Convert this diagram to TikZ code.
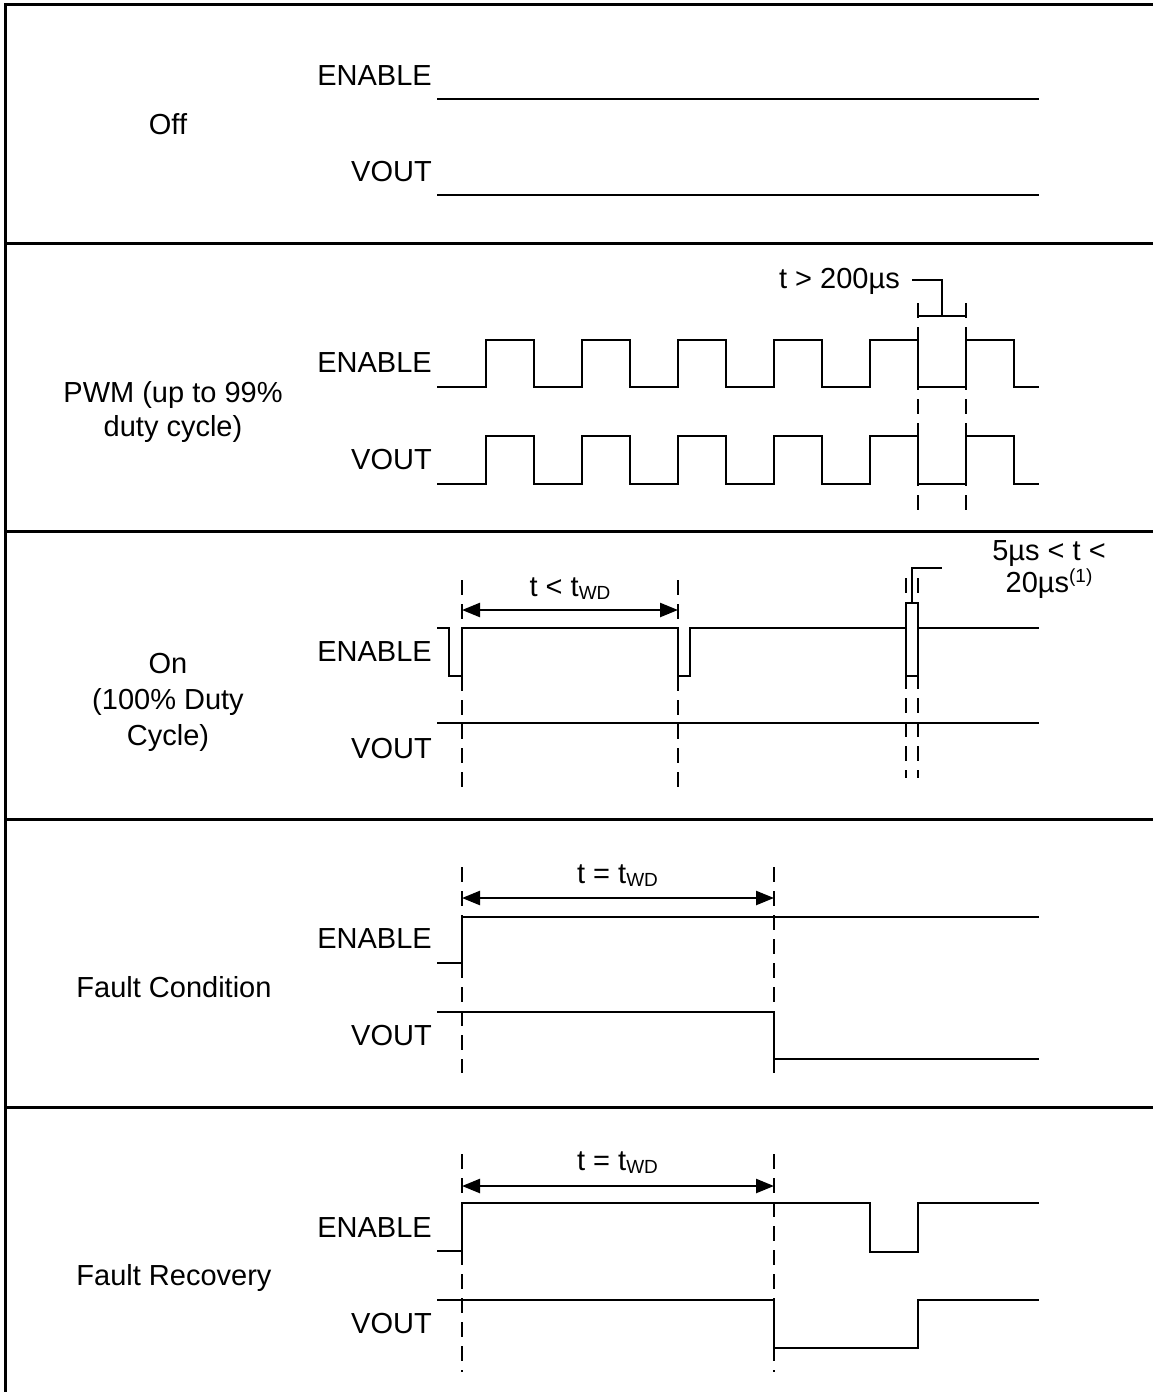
\documentclass[tikz,border=0pt]{standalone}
\usepackage{fontspec}
\setmainfont{Liberation Sans}
\usetikzlibrary{arrows.meta}
\newcommand\mysub[1]{\raisebox{-3pt}{\fontsize{19}{19}\selectfont #1}}
\newcommand\mysup[1]{\raisebox{10pt}{\fontsize{19}{19}\selectfont #1}}
\begin{document}
\begin{tikzpicture}[x=1pt,y=-1pt,
  sig/.style={line width=2.8pt, line join=miter, line cap=rect},
  frame/.style={line width=3pt},
  guide/.style={line width=2.2pt, dash pattern=on 15pt off 9pt},
  brk/.style={line width=2.2pt},
  dim/.style={line width=2.4pt, {Triangle[length=18pt,width=14pt]}-{Triangle[length=18pt,width=14pt]}},
  lbl/.style={font=\fontsize{29}{34}\selectfont, inner sep=0pt},
  sname/.style={lbl, anchor=base east},
  state/.style={lbl, anchor=base},
]
\useasboundingbox (0,0) rectangle (1153,1392);
\fill[white] (0,0) rectangle (1153,1392);

% frame and separators
\draw[frame] (1153,4) -- (5,4) -- (5,1392);
\foreach \yy in {243.7,531.7,819.3,1107.7}
  \draw[frame] (5,\yy) -- (1153,\yy);

% ---------- Panel 1: Off ----------
\node[state] (off) at (168,134.5) {Off};
\node[sname] (en1) at (432,85.5) {ENABLE};
\node[sname] (vo1) at (432,181.5) {VOUT};
\draw[sig] (438,99) -- (1038,99);
\draw[sig] (438,195) -- (1038,195);

% ---------- Panel 2: PWM ----------
\node[state] (pwm1) at (173,402.7) {PWM (up to 99\%};
\node[state] (pwm2) at (173,436.7) {duty cycle)};
\node[sname] (en2) at (432,372.7) {ENABLE};
\node[sname] (vo2) at (432,469.5) {VOUT};
\draw[guide] (918,303) -- (918,510);
\draw[guide] (966,303) -- (966,510);
\draw[sig] (438,387) -- (486,387) -- (486,340) -- (534,340) -- (534,387) -- (582,387) -- (582,340) -- (630,340) -- (630,387) -- (678,387) -- (678,340) -- (726,340) -- (726,387) -- (774,387) -- (774,340) -- (822,340) -- (822,387) -- (870,387) -- (870,340) -- (918,340) -- (918,387) -- (966,387) -- (966,340) -- (1014,340) -- (1014,387) -- (1038,387);
\draw[sig] (438,484) -- (486,484) -- (486,436) -- (534,436) -- (534,484) -- (582,484) -- (582,436) -- (630,436) -- (630,484) -- (678,484) -- (678,436) -- (726,436) -- (726,484) -- (774,484) -- (774,436) -- (822,436) -- (822,484) -- (870,484) -- (870,436) -- (918,436) -- (918,484) -- (966,484) -- (966,436) -- (1014,436) -- (1014,484) -- (1038,484);
\node[lbl, anchor=base east] (t200) at (900,288.3) {t > 200µs};
\coordinate (b200) at (942,280);
\draw[brk] (918,303) -- (918,316) -- (966,316) -- (966,303);
\draw[brk] (942,316) -- (b200) -- ([xshift=12pt]t200.east |- b200);

% ---------- Panel 3: On ----------
\node[state] (on1) at (168,673.5) {On};
\node[state] (on2) at (168,709.5) {(100\% Duty};
\node[state] (on3) at (168,745.5) {Cycle)};
\node[sname] (en3) at (432,661.5) {ENABLE};
\node[sname] (vo3) at (432,758) {VOUT};
\coordinate (d3a) at (462,580);
\coordinate (d3b) at (678,580);
\draw[guide] (d3a) -- (462,787);
\draw[guide] (d3b) -- (678,787);
\draw[guide] (906,578) -- (906,778);
\draw[guide] (918,578) -- (918,778);
\draw[sig] (438,628) -- (449,628) -- (449,676) -- (462,676) -- (462,628) -- (678,628) -- (678,676) -- (690,676) -- (690,628) -- (906,628) -- (906,676) -- (918,676) -- (918,628) -- (1038,628);
\draw[sig] (438,723) -- (1038,723);
\draw[dim] (462,610) -- (678,610);
\node[lbl, anchor=base] (tlt) at (570,596) {t < t\mysub{WD}};
\draw[brk] (906,628) -- (906,603) -- (918,603) -- (918,628);
\draw[brk] (912,603) -- (912,568) -- (942,568);
\node[lbl, anchor=base] (t5a) at (1049,560) {5µs < t <};
\node[lbl, anchor=base] (t5b) at (1049,592.7) {20µs\mysup{(1)}};

% ---------- Panel 4: Fault Condition ----------
\node[state] (fc) at (174,997.3) {Fault Condition};
\node[sname] (en4) at (432,948.3) {ENABLE};
\node[sname] (vo4) at (432,1045) {VOUT};
\draw[guide] (462,867) -- (462,1073);
\draw[guide] (774,867) -- (774,1073);
\draw[sig] (438,963) -- (462,963) -- (462,917) -- (1038,917);
\draw[sig] (438,1012) -- (774,1012) -- (774,1059) -- (1038,1059);
\draw[dim] (462,898) -- (774,898);
\node[lbl, anchor=base] (teq4) at (617.5,883.3) {t = t\mysub{WD}};

% ---------- Panel 5: Fault Recovery ----------
\node[state] (fr) at (174,1285) {Fault Recovery};
\node[sname] (en5) at (432,1237) {ENABLE};
\node[sname] (vo5) at (432,1333) {VOUT};
\draw[guide] (462,1154) -- (462,1372);
\draw[guide] (774,1154) -- (774,1372);
\draw[sig] (438,1251) -- (462,1251) -- (462,1203) -- (870,1203) -- (870,1252) -- (918,1252) -- (918,1203) -- (1038,1203);
\draw[sig] (438,1300) -- (774,1300) -- (774,1348) -- (918,1348) -- (918,1300) -- (1038,1300);
\draw[dim] (462,1186) -- (774,1186);
\node[lbl, anchor=base] (teq5) at (617.5,1170) {t = t\mysub{WD}};
\end{tikzpicture}
\end{document}
